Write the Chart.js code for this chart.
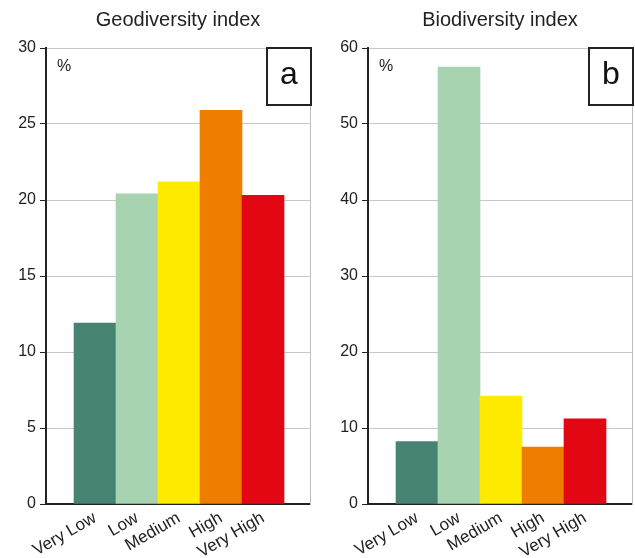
<!DOCTYPE html>
<html>
<head>
<meta charset="utf-8">
<script src="https://cdn.jsdelivr.net/npm/chart.js@4/dist/chart.umd.min.js"></script>
<style>
  body { margin: 0; background: #fff; }
  .panel { position: absolute; top: 0; width: 313px; height: 558px; }
</style>
</head>
<body>
<div class="panel" style="left:0"><canvas id="geoChart" width="313" height="558"></canvas></div>
<div class="panel" style="left:322px"><canvas id="bioChart" width="313" height="558"></canvas></div>
<script>
// Classes and values (% of area)
const classes = ["Very Low", "Low", "Medium", "High", "Very High"];
const geoValues = [11.9, 20.4, 21.2, 25.9, 20.3];
const bioValues = [8.2, 57.5, 14.2, 7.5, 11.2];
const classColors = ["#478373", "#a7d3b0", "#ffeb00", "#ef7d00", "#e30613"];

const FONT = "'Liberation Sans', Arial, sans-serif";
const TEXT = "#222";

// Panel letter box and "%" label in the corners of the plot
const panelTag = {
  id: "panelTag",
  afterDraw(chart, args, opts) {
    const { ctx, chartArea } = chart;
    ctx.save();
    ctx.fillStyle = TEXT;
    ctx.font = "16px " + FONT;
    ctx.textAlign = "left";
    ctx.textBaseline = "top";
    ctx.fillText("%", chartArea.left + 11, chartArea.top + 11);

    const w = 44, h = 57;
    const x = chartArea.right - w + 1, y = chartArea.top;
    ctx.fillStyle = "#fff";
    ctx.fillRect(x, y, w, h);
    ctx.strokeStyle = "#222";
    ctx.lineWidth = 2;
    ctx.strokeRect(x, y, w, h);
    ctx.fillStyle = "#111";
    ctx.font = "32px " + FONT;
    ctx.textAlign = "center";
    ctx.textBaseline = "middle";
    ctx.fillText(opts.letter, x + w / 2, y + h / 2 - 1);
    ctx.restore();
  },
};

function makeChart(id, title, values, max, step, letter) {
  const ctx = document.getElementById(id).getContext("2d");
  return new Chart(ctx, {
    type: "bar",
    data: {
      datasets: [
        {
          data: values.map((v, i) => ({ x: i + 1, y: v })),
          backgroundColor: classColors,
          borderWidth: 0,
          barPercentage: 1,
          categoryPercentage: 1,
        },
      ],
    },
    options: {
      responsive: false,
      animation: false,
      layout: { padding: { left: 0, right: 3, top: 0, bottom: 0 } },
      plugins: {
        legend: { display: false },
        tooltip: { enabled: false },
        title: {
          display: true,
          text: title,
          fullSize: false,
          color: TEXT,
          font: { family: FONT, size: 20, weight: "normal" },
          padding: { top: 8, bottom: 16 },
        },
        panelTag: { letter: letter },
      },
      scales: {
        x: {
          type: "linear",
          offset: false,
          bounds: "data",
          min: -0.167,
          max: 6.119,
          afterBuildTicks: (s) => {
            s.ticks = classes.map((c, i) => ({ value: i + 1 }));
          },
          afterFit: (s) => {
            s.height = 54;
          },
          grid: { display: false, drawTicks: false },
          border: { color: "#222", width: 2 },
          ticks: {
            color: TEXT,
            font: { family: FONT, size: 17 },
            minRotation: 30,
            maxRotation: 30,
            padding: 4,
            autoSkip: false,
            callback: (v) => classes[v - 1] || "",
          },
        },
        y: {
          min: 0,
          max: max,
          afterFit: (s) => {
            s.width = 46;
          },
          grid: { color: "#c8c8c8", tickColor: "#222", tickLength: 6 },
          border: { color: "#222", width: 2 },
          ticks: {
            stepSize: step,
            color: TEXT,
            font: { family: FONT, size: 16 },
            padding: 4,
          },
        },
        y2: {
          position: "right",
          afterFit: (s) => {
            s.width = 0;
          },
          grid: { display: false, drawTicks: false },
          ticks: { display: false },
          border: { color: "#bdbdbd", width: 1 },
        },
      },
    },
    plugins: [panelTag],
  });
}

makeChart("geoChart", "Geodiversity index", geoValues, 30, 5, "a");
makeChart("bioChart", "Biodiversity index", bioValues, 60, 10, "b");
</script>
</body>
</html>
